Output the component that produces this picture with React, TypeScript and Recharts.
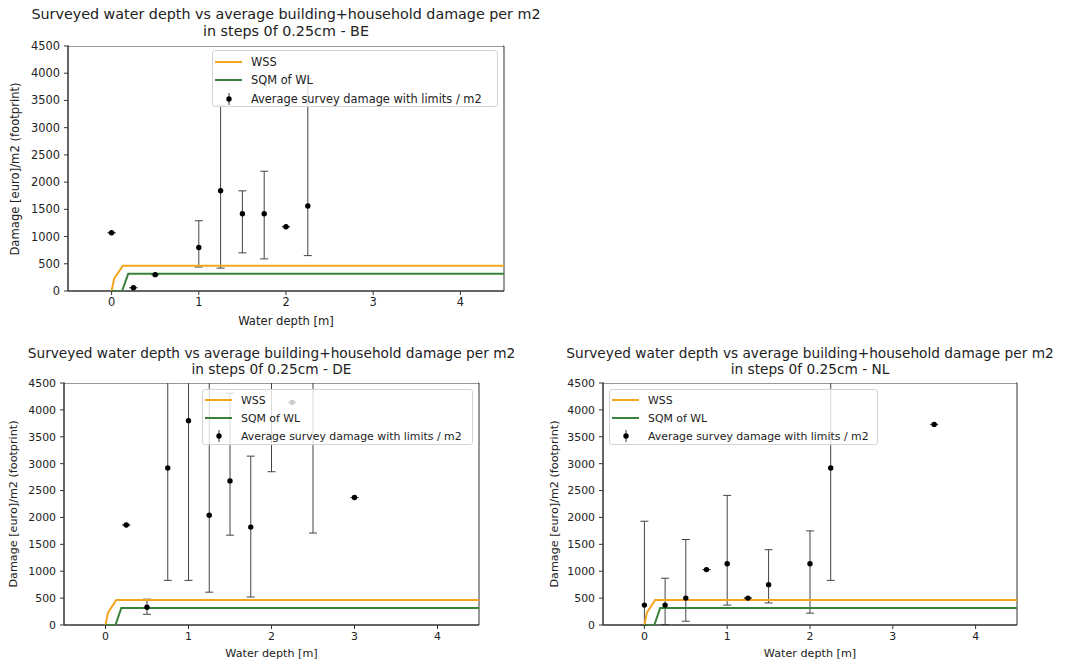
import {
  ComposedChart,
  Scatter,
  XAxis,
  YAxis,
  ErrorBar,
  ReferenceArea,
  Legend,
} from "recharts";

const FONT = '"DejaVu Sans", Verdana, sans-serif';
const ORANGE = "#f5a420";
const GREEN = "#3a823c";
const INK = "#222";

const xTicks = [0, 1, 2, 3, 4];
const yTicks = [0, 500, 1000, 1500, 2000, 2500, 3000, 3500, 4000, 4500];
const seriesNames = ["WSS", "SQM of WL", "Average survey damage with limits / m2"];

// depth-damage curves (same in all three panels)
const wssDepth = [0, 0.03, 0.13, 4.5];
const wssDamage = [0, 230, 465, 465];
const sqmDepth = [0, 0.12, 0.19, 4.5];
const sqmDamage = [0, 0, 315, 315];

// survey averages with lower / upper limits
const beDepth = [0, 0.25, 0.5, 1, 1.25, 1.5, 1.75, 2, 2.25];
const beMean = [1070, 60, 300, 800, 1840, 1420, 1420, 1180, 1560];
const beLow = [1070, 60, 300, 440, 420, 700, 590, 1180, 650];
const beHigh = [1070, 60, 300, 1290, 3400, 1840, 2200, 1180, 3900];

const deDepth = [0.25, 0.5, 0.75, 1, 1.25, 1.5, 1.75, 2, 2.25, 2.5, 3];
const deMean = [1860, 330, 2920, 3800, 2040, 2680, 1820, 4900, 4140, 5000, 2370];
const deLow = [1860, 200, 830, 830, 610, 1670, 520, 2850, 4140, 1710, 2370];
const deHigh = [1860, 480, 6000, 7500, 5200, 4310, 3140, 7000, 4140, 8000, 2370];

const nlDepth = [0, 0.25, 0.5, 0.75, 1, 1.25, 1.5, 2, 2.25, 3.5];
const nlMean = [370, 370, 500, 1030, 1140, 500, 750, 1140, 2920, 3730];
const nlLow = [0, 10, 70, 1030, 370, 500, 410, 220, 830, 3730];
const nlHigh = [1930, 870, 1590, 1030, 2410, 500, 1400, 1750, 5500, 3730];

const toLine = (depth: number[], damage: number[]) =>
  depth.map((d, i) => ({ x: d, y: damage[i] }));

const toRows = (depth: number[], mean: number[], low: number[], high: number[]) =>
  depth.map((d, i) => ({
    x: d,
    y: mean[i],
    err: [mean[i] - low[i], high[i] - mean[i]],
  }));

const wssLine = toLine(wssDepth, wssDamage);
const sqmLine = toLine(sqmDepth, sqmDamage);

const Dot = (p: any) => <circle cx={p.cx} cy={p.cy} r={2.7} fill="#000" />;
const NoDot = () => <g />;

function LegendBox({ w, h, rowYs, fontSize }: any) {
  const icon = (i: number) => {
    if (i < 2)
      return (
        <svg width={30} height={12} style={{ display: "block" }}>
          <line x1={1} x2={28} y1={6} y2={6} stroke={i === 0 ? ORANGE : GREEN} strokeWidth={2} />
        </svg>
      );
    return (
      <svg width={30} height={14} style={{ display: "block" }}>
        <line x1={15} x2={15} y1={1} y2={13} stroke="#333" strokeWidth={1} />
        <circle cx={15} cy={7} r={2.7} fill="#000" />
      </svg>
    );
  };
  return (
    <div
      style={{
        position: "relative",
        boxSizing: "border-box",
        width: w,
        height: h,
        border: "1px solid #d4d4d4",
        borderRadius: 3,
        background: "rgba(255,255,255,0.8)",
        fontFamily: FONT,
        fontSize,
        color: INK,
      }}
    >
      {seriesNames.map((name, i) => (
        <div
          key={name}
          style={{
            position: "absolute",
            left: 1,
            top: rowYs[i] - 8,
            height: 16,
            display: "flex",
            alignItems: "center",
            whiteSpace: "nowrap",
          }}
        >
          {icon(i)}
          <span style={{ marginLeft: 7 }}>{name}</span>
        </div>
      ))}
    </div>
  );
}

function Panel({ country, rows, plot, tickSize, labelSize, titleSize, titleY, xLabelY, yLabelX, legend }: any) {
  const plotW = plot.right - plot.left;
  const plotH = plot.bottom - plot.top;
  const yAxisW = 60;
  const mTop = 10;
  const xAxisH = 40;
  const left = plot.left - yAxisW;
  const top = plot.top - mTop;
  const cx = (plot.left + plot.right) / 2;
  const cy = (plot.top + plot.bottom) / 2;
  const text = { fontFamily: FONT, color: INK, position: "absolute" as const, whiteSpace: "nowrap" as const };

  return (
    <>
      <div style={{ position: "absolute", left, top }}>
        <ComposedChart
          width={yAxisW + plotW + 10}
          height={mTop + plotH + xAxisH}
          margin={{ top: mTop, right: 10, left: 0, bottom: 0 }}
        >
          <XAxis
            dataKey="x"
            type="number"
            domain={[-0.5, 4.5]}
            ticks={xTicks}
            allowDataOverflow
            height={xAxisH}
            tickSize={4}
            tickMargin={3}
            axisLine={{ stroke: "#333" }}
            tickLine={{ stroke: "#333" }}
            tick={{ fill: INK, fontSize: tickSize, fontFamily: FONT }}
          />
          <YAxis
            dataKey="y"
            type="number"
            domain={[0, 4500]}
            ticks={yTicks}
            allowDataOverflow
            width={yAxisW}
            tickSize={4}
            tickMargin={4}
            axisLine={{ stroke: "#333" }}
            tickLine={{ stroke: "#333" }}
            tick={{ fill: INK, fontSize: tickSize, fontFamily: FONT }}
          />
          <ReferenceArea x1={-0.5} x2={4.5} y1={0} y2={4500} fill="none" stroke="#333" strokeWidth={1} />
          <Scatter
            name={seriesNames[0]}
            data={wssLine}
            line={{ stroke: ORANGE, strokeWidth: 2 }}
            shape={NoDot}
            isAnimationActive={false}
          />
          <Scatter
            name={seriesNames[1]}
            data={sqmLine}
            line={{ stroke: GREEN, strokeWidth: 2 }}
            shape={NoDot}
            isAnimationActive={false}
          />
          <Scatter name={seriesNames[2]} data={rows} shape={Dot} isAnimationActive={false}>
            <ErrorBar dataKey="err" direction="y" width={4} stroke="#444" strokeWidth={1} />
          </Scatter>
          <Legend
            layout="vertical"
            align="center"
            verticalAlign="middle"
            wrapperStyle={{ left: legend.x - left, top: legend.y - top, width: legend.w, height: legend.h }}
            content={() => <LegendBox w={legend.w} h={legend.h} rowYs={legend.rows} fontSize={tickSize} />}
          />
        </ComposedChart>
      </div>
      {/* error bars are not clipped to the axes box, hide what runs above it */}
      <div
        style={{
          position: "absolute",
          left: plot.left + 1,
          top,
          width: plotW - 2,
          height: mTop - 0.5,
          background: "#fff",
        }}
      />
      <div style={{ ...text, left: cx - 300, width: 600, textAlign: "center", top: titleY[0] - titleSize * 0.6, fontSize: titleSize, lineHeight: 1.2 }}>
        Surveyed water depth vs average building+household damage per m2
      </div>
      <div style={{ ...text, left: cx - 300, width: 600, textAlign: "center", top: titleY[1] - titleSize * 0.6, fontSize: titleSize, lineHeight: 1.2 }}>
        in steps 0f 0.25cm - {country}
      </div>
      <div style={{ ...text, left: cx - 100, width: 200, textAlign: "center", top: xLabelY - labelSize * 0.6, fontSize: labelSize, lineHeight: 1.2 }}>
        Water depth [m]
      </div>
      <div style={{ ...text, left: yLabelX, top: cy, fontSize: labelSize, lineHeight: 1.2, transform: "translate(-50%, -50%) rotate(-90deg)" }}>
        Damage [euro]/m2 (footprint)
      </div>
    </>
  );
}

export default function App() {
  return (
    <div style={{ position: "absolute", left: 0, top: 0, width: 1071, height: 663, background: "#fff" }}>
      <Panel
        country="BE"
        rows={toRows(beDepth, beMean, beLow, beHigh)}
        plot={{ left: 68, top: 46, right: 504, bottom: 291 }}
        tickSize={11.4}
        labelSize={11.6}
        titleSize={14.3}
        titleY={[15, 32]}
        xLabelY={322}
        yLabelX={16}
        legend={{ x: 212, y: 50, w: 286, h: 57, rows: [11, 29, 48] }}
      />
      <Panel
        country="DE"
        rows={toRows(deDepth, deMean, deLow, deHigh)}
        plot={{ left: 64, top: 383, right: 479, bottom: 625 }}
        tickSize={10.9}
        labelSize={11.2}
        titleSize={13.7}
        titleY={[353, 369]}
        xLabelY={654}
        yLabelX={14}
        legend={{ x: 202, y: 389, w: 271, h: 56, rows: [10, 28, 46] }}
      />
      <Panel
        country="NL"
        rows={toRows(nlDepth, nlMean, nlLow, nlHigh)}
        plot={{ left: 603, top: 383, right: 1017, bottom: 625 }}
        tickSize={10.9}
        labelSize={11.2}
        titleSize={13.7}
        titleY={[353, 369]}
        xLabelY={654}
        yLabelX={555}
        legend={{ x: 609, y: 389, w: 269, h: 56, rows: [10, 28, 46] }}
      />
    </div>
  );
}
